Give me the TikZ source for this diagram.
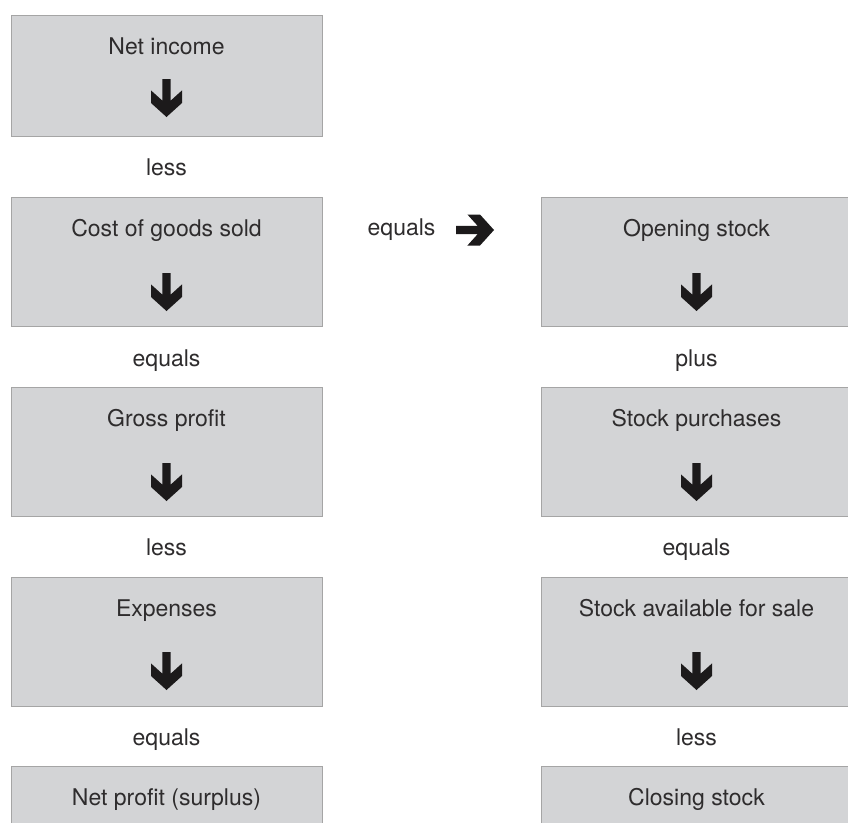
\documentclass[tikz,border=0pt]{standalone}
\usepackage{fontspec}
\setmainfont{TeX Gyre Heros}
\definecolor{boxfill}{HTML}{D3D4D6}
\definecolor{boxline}{HTML}{A5A5A5}
\definecolor{txt}{HTML}{2E2C2D}
\definecolor{arrowc}{HTML}{1C1A1B}
\tikzset{
  panel/.style={draw=boxline, line width=1pt, fill=boxfill, inner sep=0pt,
    anchor=north west, minimum width=311pt},
  widepanel/.style={panel, minimum width=330pt},
  lbl/.style={font=\fontsize{23}{27}\selectfont, text=txt, anchor=base, inner sep=0pt},
  darrow/.pic={\fill[arrowc] (-4.2,0) -- (-4.2,21.6) -- (-15.5,11.4) -- (-15.5,24)
     -- (0,38) -- (15.5,24) -- (15.5,11.4) -- (4.2,21.6) -- (4.2,0) -- cycle;}
}
\begin{document}
\begin{tikzpicture}[x=1pt,y=-1pt]
\useasboundingbox (0,0) rectangle (848,822);
\clip (0,0) rectangle (848,822);
\fill[white] (0,0) rectangle (848,822);

% left column boxes
\node[panel, minimum height=121pt] (L1) at (11,15) {};
\node[panel, minimum height=129pt] (L2) at (11,197) {};
\node[panel, minimum height=129pt] (L3) at (11,387) {};
\node[panel, minimum height=129pt] (L4) at (11,577) {};
\node[panel, minimum height=90pt]  (L5) at (11,766) {};

% right column boxes (run off the right edge)
\node[widepanel, minimum height=129pt] (R1) at (541,197) {};
\node[widepanel, minimum height=129pt] (R2) at (541,387) {};
\node[widepanel, minimum height=129pt] (R3) at (541,577) {};
\node[widepanel, minimum height=90pt]  (R4) at (541,766) {};

% box texts
\node[lbl] (tL1) at (166.5,54)  {Net income};
\node[lbl] (tL2) at (166.5,236) {Cost of goods sold};
\node[lbl] (tL3) at (166.5,426) {Gross profit};
\node[lbl] (tL4) at (166.5,616) {Expenses};
\node[lbl] (tL5) at (166.5,805) {Net profit (surplus)};
\node[lbl] (tR1) at (696.5,236) {Opening stock};
\node[lbl] (tR2) at (696.5,426) {Stock purchases};
\node[lbl] (tR3) at (696.5,616) {Stock available for sale};
\node[lbl] (tR4) at (696.5,805) {Closing stock};

% arrows inside boxes
\pic at (166.5,79)  {darrow};
\pic at (166.5,273) {darrow};
\pic at (166.5,463) {darrow};
\pic at (166.5,652) {darrow};
\pic at (696.5,273) {darrow};
\pic at (696.5,463) {darrow};
\pic at (696.5,652) {darrow};

% labels between boxes
\node[lbl] (oL1) at (166.5,175) {less};
\node[lbl] (oL2) at (166.5,366) {equals};
\node[lbl] (oL3) at (166.5,555) {less};
\node[lbl] (oL4) at (166.5,745) {equals};
\node[lbl] (oR1) at (696.5,366) {plus};
\node[lbl] (oR2) at (696.5,555) {equals};
\node[lbl] (oR3) at (696.5,745) {less};

% middle link
\node[lbl] (mid) at (401.5,235) {equals};
\pic[rotate=90] at (456,230) {darrow};
\end{tikzpicture}
\end{document}
